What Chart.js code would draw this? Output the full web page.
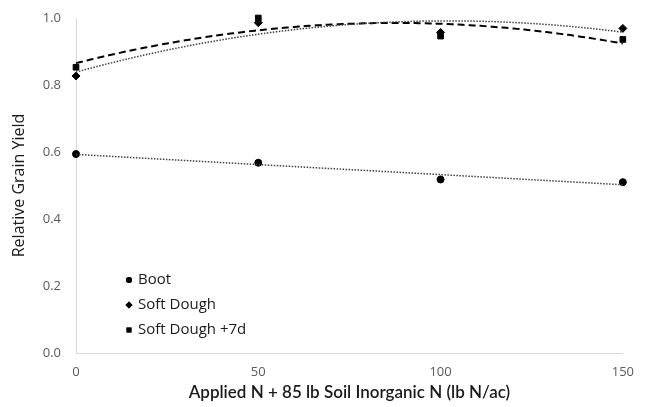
<!DOCTYPE html>
<html>
<head>
<meta charset="utf-8">
<script src="https://cdn.jsdelivr.net/npm/chart.js@4.4.0/dist/chart.umd.min.js"></script>
<style>
  html, body { margin: 0; padding: 0; background: #fff; }
  #wrap { width: 645px; height: 407px; position: relative; }
</style>
</head>
<body>
<div id="wrap"><canvas id="yieldChart"></canvas></div>
<script>
// data
const nApplied = [0, 50, 100, 150];
const bootYield = [0.594, 0.568, 0.518, 0.510];
const softDoughYield = [0.827, 0.986, 0.957, 0.969];
const softDough7dYield = [0.853, 1.0, 0.946, 0.936];
const seriesNames = ['Boot', 'Soft Dough', 'Soft Dough +7d'];
const xTicks = [0, 50, 100, 150];
const yTicks = [0, 0.2, 0.4, 0.6, 0.8, 1.0];

// least squares fit (Excel style trendline)
function polyFit(xs, ys, deg) {
    var n = deg + 1;
    var m = [];
    for (var i = 0; i < n; i++) {
        m.push([]);
        for (var j = 0; j < n; j++) {
            var s = 0;
            xs.forEach(x => s += Math.pow(x, i + j));
            m[i].push(s);
        }
        var r = 0;
        xs.forEach((x, k) => r += Math.pow(x, i) * ys[k]);
        m[i].push(r);
    }
    for (var c = 0; c < n; c++) {
        for (var r2 = c + 1; r2 < n; r2++) {
            var f = m[r2][c] / m[c][c];
            for (var k = c; k <= n; k++) m[r2][k] -= f * m[c][k];
        }
    }
    var coef = new Array(n).fill(0);
    for (var i2 = n - 1; i2 >= 0; i2--) {
        var s2 = m[i2][n];
        for (var j2 = i2 + 1; j2 < n; j2++) s2 -= m[i2][j2] * coef[j2];
        coef[i2] = s2 / m[i2][i2];
    }
    return coef;
}

function trend(xs, ys, deg) {
    var coef = polyFit(xs, ys, deg);
    var pts = [];
    for (var x = xs[0]; x <= xs[xs.length - 1]; x += 2) {
        var y = 0;
        coef.forEach((c, p) => y += c * Math.pow(x, p));
        pts.push({ x: x, y: y });
    }
    return pts;
}

function toPoints(xs, ys) {
    return xs.map((x, i) => ({ x: x, y: ys[i] }));
}

const markerStyles = ['circle', 'rectRot', 'rect'];
const markerSizes = [3.5, 4, 4];

// legend drawn inside the plot, lower left
const insideLegend = {
    id: 'insideLegend',
    afterDraw(chart) {
        const ctx = chart.ctx;
        const area = chart.chartArea;
        const offsets = [73, 48, 23];
        ctx.save();
        ctx.font = '15px "Open Sans", sans-serif';
        ctx.textBaseline = 'middle';
        seriesNames.forEach((name, i) => {
            const y = area.bottom - offsets[i];
            ctx.fillStyle = '#000';
            Chart.helpers.drawPoint(ctx, {
                pointStyle: markerStyles[i],
                radius: markerSizes[i] - 0.5,
                rotation: 0,
                borderWidth: 0
            }, area.left + 53, y);
            ctx.fill();
            ctx.fillStyle = '#1a1a1a';
            ctx.fillText(name, area.left + 62, y);
        });
        ctx.restore();
    }
};

document.addEventListener('DOMContentLoaded', function () {
    var canvas = document.getElementById('yieldChart');

    new Chart(canvas, {
        type: 'scatter',
        data: {
            datasets: [
                {
                    label: 'Boot trend',
                    data: trend(nApplied, bootYield, 1),
                    showLine: true,
                    borderColor: '#404040',
                    borderWidth: 1.5,
                    borderDash: [1.5, 1.5],
                    pointRadius: 0,
                    fill: false
                },
                {
                    label: 'Soft Dough trend',
                    data: trend(nApplied, softDoughYield, 2),
                    showLine: true,
                    borderColor: '#404040',
                    borderWidth: 1.5,
                    borderDash: [1.5, 1.5],
                    pointRadius: 0,
                    tension: 0.3,
                    fill: false
                },
                {
                    label: 'Soft Dough +7d trend',
                    data: trend(nApplied, softDough7dYield, 2),
                    showLine: true,
                    borderColor: '#000',
                    borderWidth: 2,
                    borderDash: [7, 4],
                    pointRadius: 0,
                    tension: 0.3,
                    fill: false
                },
                {
                    label: seriesNames[0],
                    data: toPoints(nApplied, bootYield),
                    pointStyle: markerStyles[0],
                    pointRadius: markerSizes[0],
                    backgroundColor: '#000',
                    borderColor: '#000'
                },
                {
                    label: seriesNames[1],
                    data: toPoints(nApplied, softDoughYield),
                    pointStyle: markerStyles[1],
                    pointRadius: markerSizes[1],
                    backgroundColor: '#000',
                    borderColor: '#000'
                },
                {
                    label: seriesNames[2],
                    data: toPoints(nApplied, softDough7dYield),
                    pointStyle: markerStyles[2],
                    pointRadius: markerSizes[2],
                    backgroundColor: '#000',
                    borderColor: '#000'
                }
            ]
        },
        options: {
            responsive: true,
            maintainAspectRatio: false,
            animation: false,
            clip: false,
            layout: { padding: { left: 0, right: 20, top: 18, bottom: 0 } },
            plugins: {
                legend: { display: false },
                tooltip: { enabled: false }
            },
            scales: {
                x: {
                    type: 'linear',
                    min: 0,
                    max: 150,
                    afterBuildTicks: s => { s.ticks = xTicks.map(v => ({ value: v })); },
                    afterFit: s => { s.height = 54; },
                    grid: { display: false, drawTicks: false },
                    border: { display: true, color: '#d9d9d9', width: 1 },
                    ticks: {
                        color: '#595959',
                        font: { family: '"Open Sans", sans-serif', size: 13 },
                        padding: 11
                    },
                    title: {
                        display: true,
                        text: 'Applied N + 85 lb Soil Inorganic N (lb N/ac)',
                        color: '#1a1a1a',
                        font: { family: 'Lato, "Open Sans", sans-serif', size: 17, weight: '600' },
                        padding: { top: 2 }
                    }
                },
                y: {
                    min: 0,
                    max: 1,
                    afterBuildTicks: s => { s.ticks = yTicks.map(v => ({ value: v })); },
                    afterFit: s => { s.width = 76; },
                    // invisible tick marks push the labels left without growing the top padding
                    grid: { display: false, drawTicks: true, tickLength: 11, tickColor: 'rgba(0,0,0,0)' },
                    border: { display: true, color: '#d9d9d9', width: 1 },
                    ticks: {
                        color: '#595959',
                        font: { family: '"Open Sans", sans-serif', size: 13 },
                        padding: 4,
                        callback: v => v.toFixed(1)
                    },
                    title: {
                        display: true,
                        text: 'Relative Grain Yield',
                        color: '#1a1a1a',
                        font: { family: '"Open Sans", sans-serif', size: 16 },
                        padding: { top: 10, bottom: 4 }
                    }
                }
            }
        },
        plugins: [insideLegend]
    });
});
</script>
</body>
</html>
